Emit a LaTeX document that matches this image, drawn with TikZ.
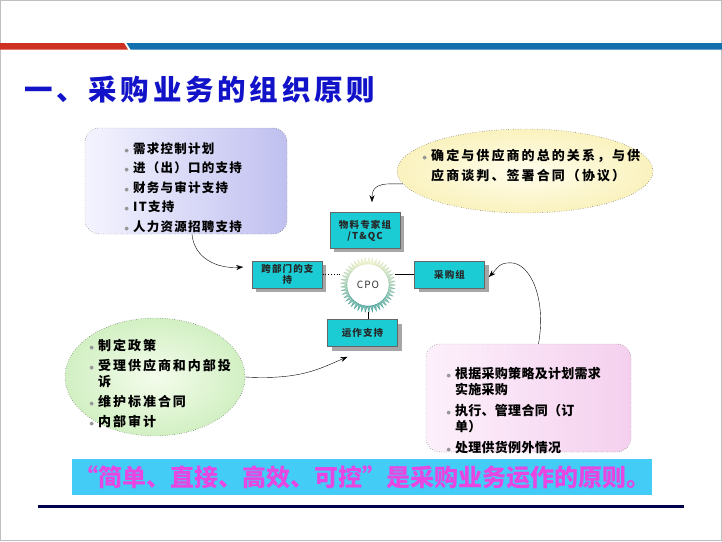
\documentclass[tikz,border=0pt]{standalone}
\usepackage{fontspec}
\setmainfont{Noto Sans CJK SC}
\usepackage{graphicx}
\usetikzlibrary{shapes,arrows.meta,positioning,shadows}

\definecolor{titleblue}{RGB}{18,18,200}
\definecolor{barred}{RGB}{206,48,34}
\definecolor{barblue}{RGB}{18,112,174}
\definecolor{boxcyan}{RGB}{28,204,212}
\definecolor{bannercyan}{RGB}{66,204,246}
\definecolor{mottopink}{RGB}{232,70,226}
\definecolor{navyline}{RGB}{0,0,78}
\definecolor{lavlight}{RGB}{244,244,255}
\definecolor{lavdark}{RGB}{192,192,240}
\definecolor{yellowin}{RGB}{255,253,236}
\definecolor{yellowout}{RGB}{250,242,190}
\definecolor{greenin}{RGB}{244,252,236}
\definecolor{greenout}{RGB}{210,240,195}
\definecolor{pinklight}{RGB}{253,240,251}
\definecolor{pinkdark}{RGB}{244,208,238}
\definecolor{toothpale}{RGB}{228,234,180}
\definecolor{toothdark}{RGB}{30,140,128}
\definecolor{dotgray}{RGB}{150,150,150}

\newcommand{\lstdot}{{\color{dotgray}\scalebox{0.8}{$\bullet$}}\hspace{4pt}}
\newcommand{\lstgap}{\hphantom{\lstdot}}

\begin{document}
\begin{tikzpicture}[x=1pt,y=-1pt,thick]
\tikzset{block/.style={rectangle,draw=black!60,thin,fill=boxcyan,minimum width=70pt,minimum height=27pt,inner sep=1pt,align=center,text=black!85,font=\fontsize{9.5}{11}\selectfont\bfseries\addfontfeature{LetterSpace=12},drop shadow={shadow xshift=4pt,shadow yshift=-4pt,fill=black!35,opacity=1}}}
\tikzset{bubble/.style={draw=black!85,thin,dotted}}
\tikzset{listtext/.style={anchor=north west,inner sep=0pt,align=left,text=black}}
\tikzset{conn/.style={-{Stealth[length=7pt,width=5pt]},thin,black}}

\useasboundingbox (0,0) rectangle (722,541);
\fill[white] (0,0) rectangle (722,541);
\draw[black!25] (0.5,0.5) rectangle (721.5,540.5);

% header
\fill[barred] (0,43) -- (124,43) -- (128,49.5) -- (0,49.5) -- cycle;
\fill[barblue] (126.5,43) -- (722,43) -- (722,49.5) -- (130.5,49.5) -- cycle;
\node[anchor=west,inner sep=0pt,text=titleblue,font=\fontsize{28.5}{30}\selectfont\bfseries\addfontfeature{LetterSpace=13}] (title) at (24,90) {一、采购业务的组织原则};

% bubbles
\node[bubble,rounded corners=14pt,left color=lavlight,right color=lavdark,minimum width=202pt,minimum height=106pt] (need) at (186,181) {};
\node[listtext,font=\fontsize{12.5}{19.6}\selectfont\bfseries\addfontfeature{LetterSpace=10}] (needtxt) at (124,142) {\lstdot 需求控制计划\\\lstdot 进（出）口的支持\\\lstdot 财务与审计支持\\\lstdot IT支持\\\lstdot 人力资源招聘支持};

\node[bubble,ellipse,inner color=yellowin,outer color=yellowout,minimum width=256pt,minimum height=84pt] (deal) at (525,171) {};
\node[listtext,font=\fontsize{13}{20}\selectfont\bfseries\addfontfeature{LetterSpace=16}] (dealtxt) at (422,148.5) {\lstdot 确定与供应商的总的关系，与供\\\lstgap 应商谈判、签署合同（协议）};

\node[bubble,ellipse,inner color=greenin,outer color=greenout,minimum width=180pt,minimum height=118pt] (policy) at (155,377) {};
\node[listtext,font=\fontsize{13}{16}\selectfont\bfseries\addfontfeature{LetterSpace=15}] (policytxt) at (89,338.5) {\lstdot 制定政策\\[4pt]\lstdot 受理供应商和内部投\\\lstgap 诉\\[4pt]\lstdot 维护标准合同\\[4pt]\lstdot 内部审计};

\node[bubble,rounded corners=14pt,left color=pinklight,right color=pinkdark,minimum width=205pt,minimum height=108pt] (exec) at (528.5,398) {};
\node[listtext,font=\fontsize{13}{16.5}\selectfont\bfseries\addfontfeature{LetterSpace=2}] (exectxt) at (446,366.5) {\lstdot 根据采购策略及计划需求\\\lstgap 实施采购\\[4pt]\lstdot 执行、管理合同（订\\\lstgap 单）\\[4pt]\lstdot 处理供货例外情况};

% centre
\node[circle,minimum size=54pt,inner sep=0pt,text=black!80,font=\fontsize{10}{12}\selectfont\addfontfeature{LetterSpace=10}] (cpo) at (368,285) {CPO};
\begin{scope}[shift={(cpo.center)}]
\foreach \a in {0,8,...,352}{%
\pgfmathtruncatemacro\m{50+50*sin(\a)}
\filldraw[draw=toothpale!\m!toothdark,fill=toothpale!\m!toothdark!60!white,very thin] (\a-4:21pt) -- (\a:27.5pt) -- (\a+4:21pt) -- cycle;}
\end{scope}

\node[block,minimum height=36pt,above=9pt of cpo,xshift=-3pt] (expert) {物料专家组\\/T\&QC};
\node[block,left=18pt of cpo,yshift=10.5pt] (cross) {跨部门的支\\持};
\node[block,right=19pt of cpo,yshift=10.5pt] (buyer) {采购组};
\node[block,below=7pt of cpo,xshift=-5.5pt] (ops) {运作支持};

\draw[thick,dotted] (cross.east) -- (cross.east -| cpo.west);
\draw[thick] (buyer.west) -- (buyer.west -| cpo.east);
\draw[thick] (cpo.south) -- (cpo.south |- ops.north);

% connectors
\draw[conn] ([xshift=6pt]need.south) .. controls +(2,24) and +(-26,2) .. ([xshift=-9pt,yshift=7.5pt]cross.west);
\draw[conn] (deal.186) -- ++(-12,0) .. controls +(-14,0) and +(0,-14) .. ([xshift=7pt,yshift=10pt]expert.north);
\draw[conn] ([xshift=10pt]exec.north) .. controls +(8,-45) and +(20,0) .. ++(-28,-81) .. controls +(-12,0) and +(9,-9) .. ([xshift=4pt,yshift=-2.5pt]buyer.east);
\draw[conn] (policy.east) .. controls +(55,3) and +(-28,12) .. ([xshift=-15pt,yshift=-10pt]ops.south);

% motto
\node[fill=bannercyan,minimum width=580pt,minimum height=36pt,inner sep=0pt,text=mottopink,font=\fontsize{24}{26}\selectfont\bfseries] (motto) at (362,477) {“简单、直接、高效、可控”是采购业务运作的原则。};
\draw[navyline,line width=3.5pt] (38,506.5) -- (684,506.5);
\end{tikzpicture}
\end{document}
